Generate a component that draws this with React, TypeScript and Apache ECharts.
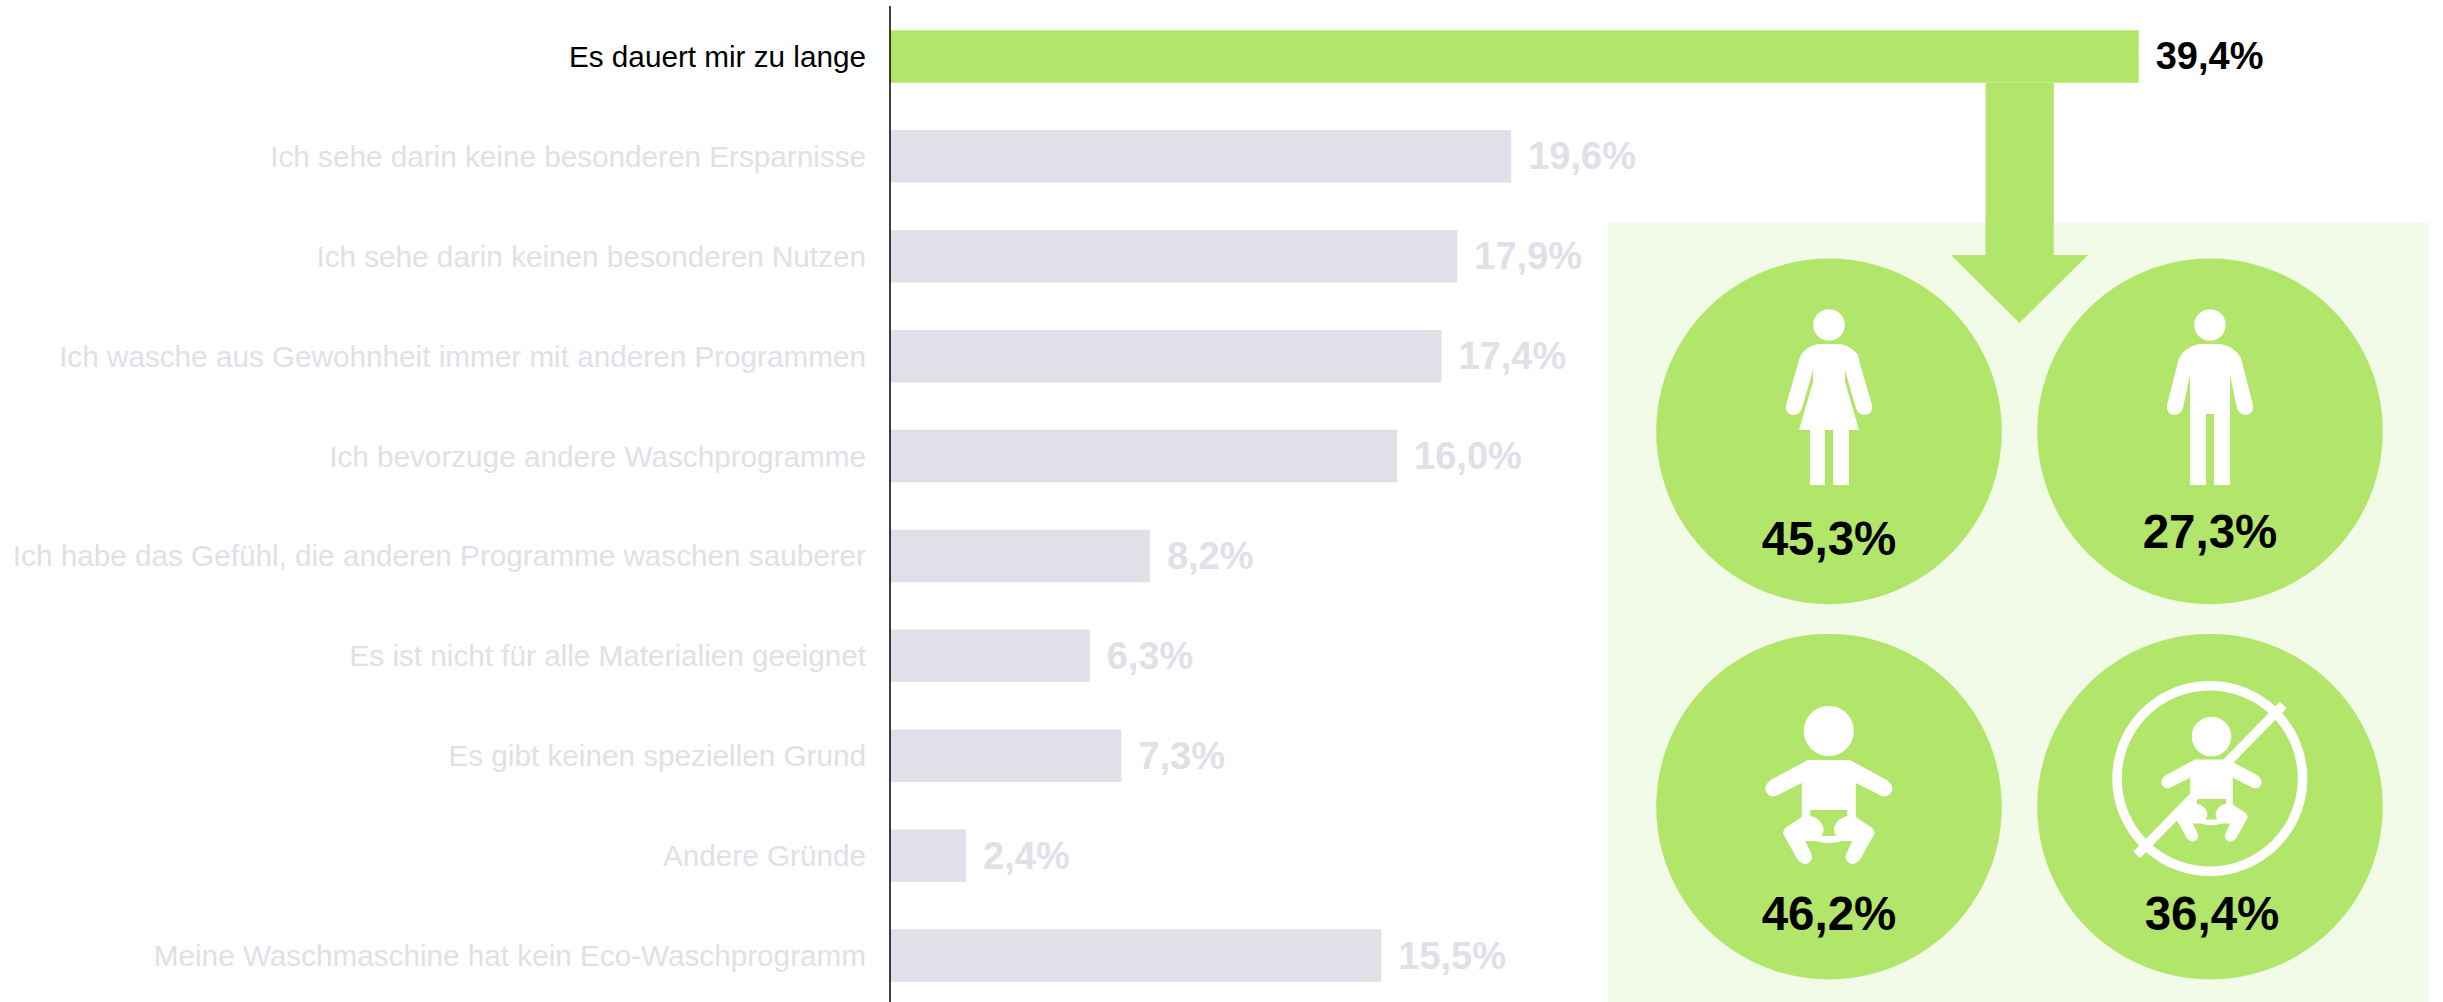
import React, { useEffect, useRef } from "react";
import * as echarts from "echarts";

const categories = [
  "Es dauert mir zu lange",
  "Ich sehe darin keine besonderen Ersparnisse",
  "Ich sehe darin keinen besonderen Nutzen",
  "Ich wasche aus Gewohnheit immer mit anderen Programmen",
  "Ich bevorzuge andere Waschprogramme",
  "Ich habe das Gefühl, die anderen Programme waschen sauberer",
  "Es ist nicht für alle Materialien geeignet",
  "Es gibt keinen speziellen Grund",
  "Andere Gründe",
  "Meine Waschmaschine hat kein Eco-Waschprogramm",
];
const values = [39.4, 19.6, 17.9, 17.4, 16.0, 8.2, 6.3, 7.3, 2.4, 15.5];
const groupLabels = ["45,3%", "27,3%", "46,2%", "36,4%"];

const GREEN = "#B2E66A";
const GREY = "#E0E0E8";
const PANEL = "#F1FBE8";
const FONT = "Liberation Sans";

const woman =
  "M-11 344 L11 344 Q24 347 29 355 Q30 358 31 364 L43 405 Q44 414 36 415 Q29 415 27 408 L16 370 L16 382 L30 430 L20 430 L20 485 L4 485 L4 430 L-4 430 L-4 485 L-19 485 L-19 430 L-30 430 L-16 382 L-16 370 L-27 408 Q-29 415 -36 415 Q-44 414 -43 405 L-31 364 Q-30 358 -28 355 Q-24 347 -11 344 Z";
const man =
  "M-11 344 L11 344 Q25 347 31 358 L43 405 Q44 414 36 415 Q29 415 27 408 L20 375 L20 485 L4 485 L4 414 L-4 414 L-4 485 L-20 485 L-20 375 L-27 408 Q-29 415 -36 415 Q-44 414 -43 405 L-31 358 Q-25 347 -11 344 Z";
const baby =
  "M-21 0 L21 0 L58 20 Q65 25 63 31 Q60 38 53 36 L27 23 L27 57 L43.5 68 Q47 72 45 75 L31 100 Q27 104 23 104 Q16 102 17 95 L23.5 81 L13.5 81 Q0 85 -13.5 81 L-23.5 81 L-17 95 Q-16 102 -23 104 Q-27 104 -31 100 L-45 75 Q-47 72 -43.5 68 L-27 57 L-27 23 L-53 36 Q-60 38 -63 31 Q-65 25 -58 20 Z";
const diaper =
  "M-18.5 50 L18.5 50 L18.5 56 Q9 58 6 66 Q4 70 7.3 76 L-7.3 76 Q-4 70 -6 66 Q-9 58 -18.5 56 Z";

echarts.graphic.registerShape("woman", echarts.graphic.extendPath(woman, {}) as any);
echarts.graphic.registerShape("man", echarts.graphic.extendPath(man, {}) as any);
echarts.graphic.registerShape("baby", echarts.graphic.extendPath(baby, {}) as any);
echarts.graphic.registerShape("diaper", echarts.graphic.extendPath(diaper, {}) as any);

const W = "#FFFFFF";

function bigLabel(text: string, x: number, y: number) {
  return {
    type: "text",
    x,
    y,
    z: 20,
    style: { text, fill: "#000", font: `bold 47.5px "${FONT}"`, align: "center", verticalAlign: "middle" },
  };
}
function disc(cx: number, cy: number) {
  return { type: "circle", z: 5, shape: { cx, cy, r: 172.8 }, style: { fill: GREEN } };
}
function babyIcon(x: number, y: number, s: number) {
  return [
    { type: "circle", z: 10, shape: { cx: x, cy: y - 29 * s, r: 25 * s }, style: { fill: W } },
    { type: "baby", z: 10, x, y, scaleX: s, scaleY: s, style: { fill: W } },
    { type: "diaper", z: 11, x, y, scaleX: s, scaleY: s, style: { fill: GREEN } },
  ];
}

export default function App() {
  const ref = useRef<HTMLDivElement>(null);
  useEffect(() => {
    document.body.style.margin = "0";
    const chart = echarts.init(ref.current!, null, { renderer: "svg" });
    chart.setOption({
      animation: false,
      backgroundColor: "#fff",
      grid: { left: 890, right: 0, top: 6.5, bottom: 4.5, containLabel: false },
      xAxis: { type: "value", min: 0, max: 49, show: false },
      yAxis: {
        type: "category",
        inverse: true,
        z: 10,
        data: categories.map((c, i) => ({
          value: c,
          textStyle: { color: i === 0 ? "#000" : GREY },
        })),
        axisLine: { show: true, lineStyle: { color: "#000", width: 1.5 } },
        axisTick: { show: false },
        axisLabel: { fontFamily: FONT, fontSize: 29.7, margin: 24, interval: 0 },
      },
      series: [
        {
          type: "bar",
          barWidth: 52.5,
          z: 3,
          data: values.map((v, i) => ({
            value: v,
            itemStyle: { color: i === 0 ? GREEN : GREY },
            label: { color: i === 0 ? "#000" : GREY },
          })),
          label: {
            show: true,
            position: "right",
            distance: 17,
            fontFamily: FONT,
            fontWeight: "bold",
            fontSize: 38,
            formatter: (p: any) => p.value.toFixed(1).replace(".", ",") + "%",
          },
        },
      ],
      graphic: {
        elements: [
          { type: "rect", z: 1, shape: { x: 1608, y: 222.7, width: 820.5, height: 779.3 }, style: { fill: PANEL } },
          disc(1829, 431.4),
          disc(2210, 431.4),
          disc(1829, 806.7),
          disc(2210, 806.7),
          {
            type: "polygon",
            z: 6,
            shape: {
              points: [
                [1985.5, 83],
                [2053.8, 83],
                [2053.8, 255],
                [2088, 255],
                [2019.4, 323],
                [1951, 255],
                [1985.5, 255],
              ],
            },
            style: { fill: GREEN },
          },
          { type: "circle", z: 10, shape: { cx: 1829, cy: 325, r: 15.8 }, style: { fill: W } },
          { type: "woman", z: 10, x: 1829, y: 0, style: { fill: W } },
          { type: "circle", z: 10, shape: { cx: 2210, cy: 325, r: 15.8 }, style: { fill: W } },
          { type: "man", z: 10, x: 2210, y: 0, style: { fill: W } },
          ...babyIcon(1828.8, 760, 1),
          ...babyIcon(2211.5, 759.5, 0.79),
          { type: "ring", z: 10, shape: { cx: 2209.8, cy: 778.5, r: 97.5, r0: 88 }, style: { fill: W } },
          { type: "line", z: 12, shape: { x1: 2136.7, y1: 855, x2: 2283.3, y2: 705 }, style: { stroke: W, lineWidth: 9.5 } },
          bigLabel(groupLabels[0], 1829, 538),
          bigLabel(groupLabels[1], 2210, 531),
          bigLabel(groupLabels[2], 1829, 913),
          bigLabel(groupLabels[3], 2212, 913),
        ],
      },
    });
    return () => chart.dispose();
  }, []);
  return (
    <div style={{ width: 2443, height: 1002, overflow: "hidden" }}>
      <div ref={ref} style={{ width: 2443, height: 1010 }} />
    </div>
  );
}
